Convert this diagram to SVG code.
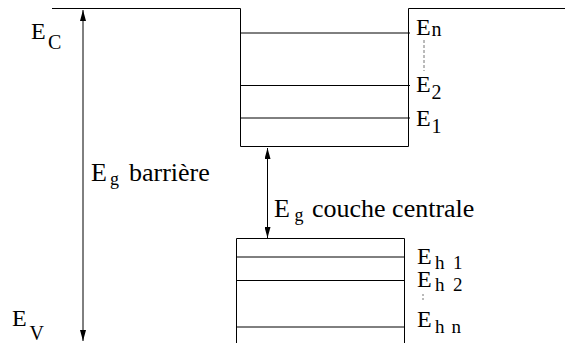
<svg xmlns="http://www.w3.org/2000/svg" width="565" height="343" viewBox="0 0 565 343">
<style>
text{font-family:'Liberation Serif','Times New Roman',serif;fill:#000;font-size:24px}
.m{font-size:26px}
.s{font-size:20px}
.h{font-size:19px}
.g{font-size:18px}
.ln{stroke:#000;stroke-width:1;fill:none}
</style>
<defs>
<marker id="a2" viewBox="0 0 11 6" refX="11" refY="3" markerWidth="11" markerHeight="6" markerUnits="userSpaceOnUse" orient="auto-start-reverse">
<path d="M0,0 L11,3 L0,6 z" fill="#000"/>
</marker>
</defs>
<g id="well">
<path class="ln" d="M52,8.5 H240.5 V146.5 H408.5 V8.5 H565" stroke-width="1.3"/>
<line class="ln" x1="241" y1="33" x2="410" y2="33"/>
<line class="ln" x1="241" y1="85.5" x2="410" y2="85.5"/>
<line class="ln" x1="241" y1="118" x2="410" y2="118"/>
<line x1="424" y1="40" x2="424" y2="71" stroke="#777" stroke-width="1" stroke-dasharray="3,2"/>
</g>
<g id="valence">
<path class="ln" d="M236.5,343 V238.5 H404.5 V343"/>
<line class="ln" x1="237" y1="257" x2="404" y2="257"/>
<line class="ln" x1="237" y1="280.5" x2="404" y2="280.5"/>
<line class="ln" x1="237" y1="327" x2="404" y2="327"/>
<line x1="423" y1="294" x2="423" y2="302" stroke="#777" stroke-width="1" stroke-dasharray="2,2"/>
</g>
<g id="connectors">
<line x1="83" y1="10" x2="83" y2="341" stroke="#000" stroke-width="1" marker-start="url(#a2)" marker-end="url(#a2)"/>
<line x1="267.5" y1="148" x2="267.5" y2="238" stroke="#000" stroke-width="1" marker-start="url(#a2)" marker-end="url(#a2)"/>
</g>
<g id="labels">
<text x="31" y="38.5">E<tspan class="s" x="48" y="48.5">C</tspan></text>
<text x="12" y="326">E<tspan class="s" x="29.5" y="340">V</tspan></text>
<text class="m" x="91" y="181">E<tspan class="g" x="110" y="185">g</tspan><tspan x="129" y="181">barrière</tspan></text>
<text class="m" x="274" y="217">E<tspan class="g" x="294.5" y="221">g</tspan><tspan x="312" y="217">couche centrale</tspan></text>
<text x="416" y="34.5">E<tspan class="s" x="431.5" y="36">n</tspan></text>
<text x="416" y="92">E<tspan class="s" x="431.5" y="99">2</tspan></text>
<text x="416" y="126">E<tspan class="s" x="431.5" y="133">1</tspan></text>
<text x="417" y="264">E<tspan class="h" x="435" y="268.5">h</tspan><tspan class="h" x="453" y="268.5">1</tspan></text>
<text x="417" y="287">E<tspan class="h" x="435" y="291">h</tspan><tspan class="h" x="453" y="291">2</tspan></text>
<text x="417" y="327">E<tspan class="h" x="435" y="332.5">h</tspan><tspan class="h" x="451.5" y="332.5">n</tspan></text>
</g>
</svg>
